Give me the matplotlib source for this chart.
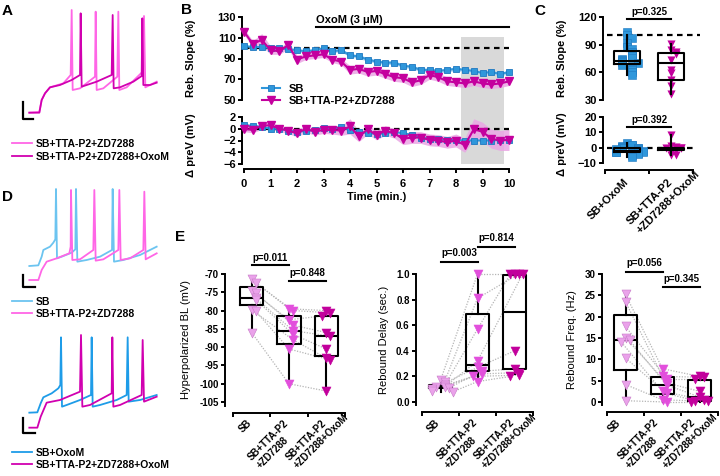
import numpy as np
import matplotlib.pyplot as plt

plt.rcParams['font.family'] = ['Liberation Sans', 'DejaVu Sans']
plt.rcParams['font.weight'] = 'bold'
plt.rcParams['axes.labelweight'] = 'bold'

W, H = 720, 476
fig = plt.figure(figsize=(W / 100, H / 100), dpi=100)

BLUE = '#2f97db'
BLUE_EDGE = '#1f78c0'
LIGHT_BLUE = '#6cc4f0'
MAG = '#c4009e'
PINK = '#ff66e6'
DARK_MAG = '#d100b0'
BAND_PINK = '#eaa6e4'
BAND_BLUE = '#a9d3f0'
TRI_LIGHT = '#eaa2ea'
TRI_MID = '#e24fdc'
TRI_DARK = '#c2009c'

# ---------------- data ----------------
# A / D traces (time units, voltage units)
a_light_t = [0, 30, 37, 47, 62, 102, 124, 127, 130, 152, 197, 199, 202, 222, 264, 267, 270, 292, 340, 344, 348, 382]
a_light_v = [0, 2, 38, 58, 76, 88, 113, 308, 68, 73, 108, 303, 68, 73, 108, 303, 68, 76, 123, 290, 76, 93]
a_dark_t = [0, 30, 37, 47, 62, 92, 127, 152, 154, 157, 172, 202, 247, 250, 253, 272, 312, 337, 339, 342, 362, 382]
a_dark_v = [0, 0, 38, 58, 76, 83, 98, 113, 298, 78, 83, 93, 113, 293, 73, 76, 93, 110, 283, 83, 83, 90]

d1_sb_t = [0, 27, 37, 42, 62, 72, 78, 80, 83, 97, 127, 138, 140, 144, 172, 212, 248, 250, 254, 282, 332, 382]
d1_sb_v = [42, 44, 70, 90, 100, 112, 122, 273, 65, 70, 82, 92, 273, 55, 60, 70, 90, 273, 55, 60, 75, 100]
d1_tta_t = [0, 27, 37, 52, 82, 120, 124, 125, 129, 152, 192, 195, 199, 222, 267, 270, 274, 302, 342, 345, 349, 382]
d1_tta_v = [0, 0, 30, 55, 65, 80, 100, 270, 60, 62, 90, 270, 58, 62, 90, 270, 60, 65, 90, 265, 62, 80]

d2_sb_t = [0, 24, 34, 42, 67, 87, 93, 95, 98, 112, 152, 185, 187, 190, 212, 262, 292, 295, 298, 332, 382]
d2_sb_v = [45, 46, 73, 91, 103, 118, 128, 271, 63, 68, 83, 98, 271, 63, 68, 83, 98, 271, 78, 83, 98]
d2_tta_t = [0, 24, 34, 52, 92, 152, 155, 159, 182, 247, 249, 252, 272, 337, 340, 344, 382]
d2_tta_v = [0, 0, 33, 75, 83, 108, 278, 63, 68, 103, 271, 63, 68, 98, 263, 78, 93]

# B time course
time_min = [0, 0.33, 0.67, 1, 1.33, 1.67, 2, 2.33, 2.67, 3, 3.33, 3.67, 4, 4.33, 4.67, 5,
            5.33, 5.67, 6, 6.33, 6.67, 7, 7.33, 7.67, 8, 8.33, 8.67, 9, 9.33, 9.67, 10]
slope_sb = [102, 101, 101, 100, 100, 99, 98, 97, 98, 100, 97, 98, 93, 92, 89, 87,
            86, 86, 83, 82, 79, 79, 78, 79, 80, 79, 78, 76, 77, 75, 77]
slope_sb_sem = [1.5, 1.5, 1.5, 1.5, 1.5, 1.5, 1.5, 1.5, 1.5, 1.5, 1.5, 1.5, 1.8, 1.8, 1.8, 1.8,
                1.8, 1.8, 1.8, 1.8, 1.8, 1.8, 1.8, 1.8, 1.8, 1.8, 1.8, 1.8, 1.8, 1.8, 1.8]
slope_tta = [116, 104, 108, 98, 97, 103, 89, 92, 93, 94, 89, 87, 79, 80, 77, 78,
             75, 72, 71, 67, 69, 74, 72, 68, 67, 66, 68, 66, 65, 66, 68]
slope_tta_sem = [3, 3, 6, 4, 3, 4, 4, 3, 3, 3, 3, 3, 4, 4, 4, 4,
                 4, 4, 4, 4, 4, 4, 4, 4, 4, 4, 4, 4, 4, 4, 4]
prev_sb = [0.6, 0.5, 0.3, 0.0, 0.0, -0.3, -0.5, -0.4, -0.2, 0.2, 0.0, 0.3, -0.2, -0.6, -0.7, -0.9,
           -0.8, -0.5, -0.8, -1.0, -1.5, -1.7, -1.8, -1.9, -1.9, -2.0, -2.0, -2.0, -2.0, -1.9, -1.9]
prev_tta = [0.0, -0.2, 0.5, 0.6, 0.0, -0.3, -0.8, 0.0, -0.5, -0.2, -0.2, -0.3, 0.4, -1.3, -0.1, -1.1,
            -0.3, -0.8, -1.7, -1.5, -1.5, -1.9, -2.0, -2.3, -2.0, -2.8, -0.1, -0.5, -1.7, -2.0, -1.9]
prev_tta_sem = [0.5, 0.5, 0.6, 0.6, 0.5, 0.5, 0.6, 0.6, 0.6, 0.6, 0.7, 0.8, 1.3, 0.9, 0.8, 0.8,
                0.8, 0.8, 1.0, 1.0, 1.0, 1.0, 1.0, 1.0, 1.1, 1.2, 1.8, 1.6, 1.6, 1.7, 1.8]
oxom_start, oxom_end = 2.7, 10
shade_start, shade_end, shade_top = 8.2, 9.8, 111

# C summary
c_labels = ['SB+OxoM', 'SB+TTA-P2\n+ZD7288+OxoM']
c_slope_sb = [104, 100, 97, 92, 88, 85, 82, 80, 78, 76, 75, 73, 72, 71, 70, 68, 66, 64, 62, 60, 57]
c_slope_tta = [91, 84, 82, 80, 73, 63, 59, 52, 45, 37]
c_slope_box = [(69, 72, 83, 57, 101), (52, 70, 81, 37, 91)]
c_prev_sb = [3, 2, 1.5, 1, 0.5, 0, 0, -0.5, -1, -1, -1.5, -2, -2, -2, -2.5, -3, -3, -3.5, -4, -5, -6]
c_prev_tta = [8, 1, 0.5, 0, 0, -0.5, -1.5, -3, -4.5, -5]
c_prev_box = [(-3, -2, -0.5, -6, 3), (-1.5, -0.5, 0, -5, 8)]
c_p = ['p=0.325', 'p=0.392']

# E summary (paired cells)
e_labels = ['SB', 'SB+TTA-P2\n+ZD7288', 'SB+TTA-P2\n+ZD7288+OxoM']
bl_vals = [[-71.4, -72.5, -74.7, -75.2, -76.6, -77, -79.8, -80.2, -86],
           [-79.5, -80, -82.5, -84, -85.5, -86.5, -88, -90.5, -100],
           [-80, -80.6, -81.5, -86, -87, -90.5, -93, -93.5, -102]]
bl_box = [(-78.5, -76.5, -73.5, -86, -71.5), (-89, -85.5, -81.5, -100, -79), (-92.5, -87, -81.5, -102, -80)]
delay_vals = [[0.17, 0.16, 0.13, 0.12, 0.12, 0.11, 0.10, 0.09, 0.08],
              [1.0, 0.81, 0.57, 0.32, 0.27, 0.24, 0.22, 0.20, 0.16],
              [1.0, 1.0, 1.0, 1.0, 0.40, 0.26, 0.23, 0.21, 0.20]]
delay_box = [(0.11, 0.12, 0.135, 0.08, 0.17), (0.24, 0.29, 0.69, 0.17, 1.0), (0.26, 0.70, 0.99, 0.22, 1.0)]
freq_vals = [[25.2, 23.5, 17.7, 15, 14.5, 14, 10.3, 4.1, 0.3],
             [7.8, 6, 5.5, 4.5, 4, 2.5, 2, 0.5, 0],
             [6, 5.8, 5.5, 2.5, 1.2, 0.5, 0.3, 0.2, 0]]
freq_box = [(7.5, 14.5, 20.3, 0, 25), (1.8, 4, 5.8, 0, 7.8), (0.3, 1.2, 5.2, 0, 6)]
bl_p = ['p=0.011', 'p=0.848']
delay_p = ['p=0.003', 'p=0.814']
freq_p = ['p=0.056', 'p=0.345']


# ---------------- helpers ----------------
def px_axes(l, t, r, b):
    return fig.add_axes([l / W, 1 - b / H, (r - l) / W, (b - t) / H])


def pt(px):
    return px * 72 / 100


def style(ax, left_out=2, bottom_out=5, lw=1.4, size=8):
    for s in ('top', 'right'):
        ax.spines[s].set_visible(False)
    ax.spines['left'].set_position(('outward', pt(left_out)))
    ax.spines['bottom'].set_position(('outward', pt(bottom_out)))
    for s in ('left', 'bottom'):
        ax.spines[s].set_linewidth(lw)
    ax.tick_params(width=lw, length=3, labelsize=size, pad=1.5)
    ax.patch.set_visible(False)


def spread(vals, step, tol):
    offs = []
    for i, v in enumerate(vals):
        k = sum(1 for u in vals[:i] if abs(u - v) < tol)
        offs.append(((k + 1) // 2) * step * (1 if k % 2 else -1))
    return np.array(offs)


def draw_box(ax, pos, st, width, zorder=3, lw=1.5):
    q1, med, q3, lo, hi = st
    ax.bxp([dict(q1=q1, med=med, q3=q3, whislo=lo, whishi=hi, fliers=[])], positions=[pos],
           widths=width, showfliers=False, showcaps=False, manage_ticks=False,
           boxprops=dict(lw=lw, color='k'), medianprops=dict(lw=lw, color='k'),
           whiskerprops=dict(lw=lw, color='k'), zorder=zorder)


def p_bar(ax, x0, x1, y_line, y_text, text):
    ax.plot([x0, x1], [y_line, y_line], color='k', lw=1.5, clip_on=False)
    ax.text((x0 + x1) / 2, y_text, text, ha='center', va='center', fontsize=7, clip_on=False)


def cat_axis(ax, n):
    ax.set_xlim(0.5, n + 0.5)
    ax.set_xticks(np.arange(n + 1) + 0.5)
    ax.set_xticklabels([])


def rot_labels(ax, labels, size, drop_px, shift_px=-1):
    # 45 degree labels, lines left-aligned, first line ending at the category
    r = fig.canvas.get_renderer()
    y0 = ax.get_ylim()[0]
    lh = size * 1.22 * 100 / 72
    c = 0.7071
    for i, lab in enumerate(labels):
        lines = lab.split('\n')
        ws = []
        for ln in lines:
            tmp = fig.text(0, 0, ln, fontsize=size, fontweight='bold')
            ws.append(tmp.get_window_extent(r).width)
            tmp.remove()
        xd, yd = ax.transData.transform((i + 1, y0))
        xd += shift_px
        yd -= drop_px
        for j, ln in enumerate(lines):
            dx = (ws[j] - ws[0]) * c + j * lh * c
            dy = (ws[j] - ws[0]) * c - j * lh * c
            fig.text((xd + dx) / W, (yd + dy) / H, ln, rotation=45, ha='right', va='center',
                     rotation_mode='anchor', fontsize=size)


def trace_axes(l, t, r, b, ylim):
    ax = px_axes(l, t, r, b)
    ax.set_xlim(-49, 422)
    ax.set_ylim(*ylim)
    ax.axis('off')
    return ax


# ---------------- A ----------------
ax_a = trace_axes(13, 5, 170, 125, (-37, 323))
ha1, = ax_a.plot(a_light_t, a_light_v, color=PINK, lw=1.3, clip_on=False)
ha2, = ax_a.plot(a_dark_t, a_dark_v, color=DARK_MAG, lw=1.3, clip_on=False)
ax_a.plot([-18, -18, 12], [33, -20, -20], color='k', lw=1.6)
fig.legend([ha1, ha2], ['SB+TTA-P2+ZD7288', 'SB+TTA-P2+ZD7288+OxoM'], loc='upper left',
           bbox_to_anchor=(12 / W, 1 - 139 / H), frameon=False, fontsize=7.5, handlelength=1.9,
           handletextpad=0.4, borderpad=0, borderaxespad=0, labelspacing=0.25)

# ---------------- D ----------------
ax_d1 = trace_axes(13, 183, 170, 295, (-45, 291))
hd1, = ax_d1.plot(d1_sb_t, d1_sb_v, color=LIGHT_BLUE, lw=1.3, clip_on=False)
hd2, = ax_d1.plot(d1_tta_t, d1_tta_v, color=PINK, lw=1.3, clip_on=False)
ax_d1.plot([-20, -20, 17], [15, -22, -22], color='k', lw=1.6)
fig.legend([hd1, hd2], ['SB', 'SB+TTA-P2+ZD7288'], loc='upper left',
           bbox_to_anchor=(12 / W, 1 - 297 / H), frameon=False, fontsize=7.5, handlelength=1.9,
           handletextpad=0.4, borderpad=0, borderaxespad=0, labelspacing=0.15)

ax_d2 = trace_axes(13, 330, 170, 440, (-37, 293))
hd3, = ax_d2.plot(d2_sb_t, d2_sb_v, color='#1e9ce8', lw=1.3, clip_on=False)
hd4, = ax_d2.plot(d2_tta_t, d2_tta_v, color=DARK_MAG, lw=1.3, clip_on=False)
ax_d2.plot([-20, -20, 17], [28, -17, -17], color='k', lw=1.6)
fig.legend([hd3, hd4], ['SB+OxoM', 'SB+TTA-P2+ZD7288+OxoM'], loc='upper left',
           bbox_to_anchor=(12 / W, 1 - 448 / H), frameon=False, fontsize=7.5, handlelength=1.9,
           handletextpad=0.4, borderpad=0, borderaxespad=0, labelspacing=0.15)

# ---------------- B ----------------
ax_b1 = px_axes(244, 17, 509, 100)
ax_b2 = px_axes(244, 117, 509, 164)
style(ax_b1)
style(ax_b2)
t = np.array(time_min)
ax_b1.fill_between(t, np.array(slope_sb) - slope_sb_sem, np.array(slope_sb) + slope_sb_sem,
                   color=BAND_BLUE, lw=0, zorder=2)
ax_b1.fill_between(t, np.array(slope_tta) - slope_tta_sem, np.array(slope_tta) + slope_tta_sem,
                   color=BAND_PINK, lw=0, alpha=0.85, zorder=2)
hb1, = ax_b1.plot(t, slope_sb, color=BLUE, marker='s', ms=5, mec=BLUE_EDGE, mew=0.6, lw=1.5,
                  clip_on=False, zorder=4)
hb2, = ax_b1.plot(t, slope_tta, color=MAG, marker='v', ms=5.5, mec=MAG, lw=1.5, clip_on=False, zorder=4)
ax_b1.plot([0, 10], [100, 100], color='k', ls=(0, (2.5, 2)), lw=1.6, zorder=3)
ax_b1.plot([oxom_start, oxom_end], [120.5, 120.5], color='k', lw=1.5, clip_on=False)
ax_b1.text(oxom_start, 127, 'OxoM (3 μM)', fontsize=8, ha='left', va='center')
ax_b1.set_xlim(0, 10)
ax_b1.set_ylim(50, 130)
ax_b1.set_yticks([50, 70, 90, 110, 130])
ax_b1.spines['bottom'].set_visible(False)
ax_b1.set_xticks([])
ax_b1.set_ylabel('Reb. Slope (%)', fontsize=8)
ax_b1.yaxis.set_label_coords((196 - 244) / 265, 0.5)
ax_b1.legend([hb1, hb2], ['SB', 'SB+TTA-P2+ZD7288'], loc='upper left',
             bbox_to_anchor=((262 - 244) / 265, (100 - 84) / 83), frameon=False, fontsize=8,
             handlelength=1.6, handletextpad=0.8, borderpad=0, borderaxespad=0, labelspacing=0.2)

ax_b2.fill_between(t, np.array(prev_tta) - prev_tta_sem, np.array(prev_tta) + prev_tta_sem,
                   color=BAND_PINK, lw=0, alpha=0.85, zorder=2)
ax_b2.plot(t, prev_sb, color=BLUE, marker='s', ms=5, mec=BLUE_EDGE, mew=0.6, lw=1.5, clip_on=False, zorder=4)
ax_b2.plot(t, prev_tta, color=MAG, marker='v', ms=5.5, mec=MAG, lw=1.5, clip_on=False, zorder=4)
ax_b2.plot([0, 10], [0, 0], color='k', ls=(0, (2.5, 2)), lw=1.6, zorder=3)
ax_b2.set_xlim(0, 10)
ax_b2.set_ylim(-6, 2)
ax_b2.set_yticks([-6, -4, -2, 0, 2])
ax_b2.set_xticks(range(11))
ax_b2.tick_params(axis='x', pad=4)
ax_b2.set_xlabel('Time (min.)', fontsize=8, labelpad=2)
ax_b2.set_ylabel('Δ preV (mV)', fontsize=8)
ax_b2.yaxis.set_label_coords((196 - 244) / 265, 0.4)

# grey analysis window spanning both panels
pos1, pos2 = ax_b1.get_position(), ax_b2.get_position()
ax_b1.axvspan(shade_start, shade_end, ymin=(pos2.y0 - pos1.y0) / pos1.height,
              ymax=(shade_top - 50) / 80, color='#d9d9d9', lw=0, zorder=0, clip_on=False)

# ---------------- C ----------------
ax_c1 = px_axes(605, 17, 693, 100)
ax_c2 = px_axes(605, 117, 693, 163)
style(ax_c1)
style(ax_c2, bottom_out=7)
for ax, sb_vals, tta_vals, boxes, tol, ylim, yt in [
        (ax_c1, c_slope_sb, c_slope_tta, c_slope_box, 3.5, (30, 120), [30, 60, 90, 120]),
        (ax_c2, c_prev_sb, c_prev_tta, c_prev_box, 1.2, (-10, 20), [-10, 0, 10, 20])]:
    ax.scatter(1 + spread(sb_vals, 0.12, tol), sb_vals, marker='s', s=30, color=BLUE,
               edgecolor=BLUE_EDGE, lw=0.4, zorder=2, clip_on=False)
    ax.scatter(2 + spread(tta_vals, 0.11, tol), tta_vals, marker='v', s=34, color=TRI_DARK,
               lw=0, zorder=2, clip_on=False)
    for i, st in enumerate(boxes):
        draw_box(ax, i + 1, st, 0.58, zorder=3)
    ax.set_ylim(*ylim)
    ax.set_yticks(yt)
ax_c1.plot([0.55, 2.65], [100, 100], color='k', ls=(0, (2.5, 2)), lw=1.6, zorder=1, clip_on=False)
ax_c2.plot([0.55, 2.5], [0, 0], color='k', ls=(0, (2.5, 2)), lw=1.6, zorder=1, clip_on=False)
cat_axis(ax_c1, 2)
ax_c1.spines['bottom'].set_visible(False)
ax_c1.tick_params(axis='x', which='both', length=0)
cat_axis(ax_c2, 2)
rot_labels(ax_c2, c_labels, 8, 17, 0)
p_bar(ax_c1, 1, 2, 117.8, 125.4, c_p[0])
p_bar(ax_c2, 1, 2, 13.5, 18, c_p[1])
ax_c1.set_ylabel('Reb. Slope (%)', fontsize=8)
ax_c1.yaxis.set_label_coords((567 - 605) / 88, 0.5)
ax_c2.set_ylabel('Δ preV (mV)', fontsize=8)
ax_c2.yaxis.set_label_coords((567 - 605) / 88, 0.4)

# ---------------- E ----------------
e_specs = [
    ((233, 274, 345, 405.7), bl_vals, bl_box, bl_p, (-106, -70), np.arange(-105, -69, 5), 1.6,
     'Hyperpolarized BL (mV)', 8, [(-67.5, -65.6), (-71.9, -69.7)], '{:.0f}', 191, -2),
    ((422, 274, 533, 405), delay_vals, delay_box, delay_p, (-0.023, 1.0), np.arange(0, 1.01, 0.2), 0.04,
     'Rebound Delay (sec.)', 6, [(1.094, 1.164), (1.211, 1.28)], '{:.1f}', 389, -2),
    ((607, 274, 718, 405), freq_vals, freq_box, freq_p, (-0.7, 30), np.arange(0, 31, 5), 1.3,
     'Rebound Freq. (Hz)', 5, [(30.47, 32.6), (26.95, 28.8)], '{:.0f}', 577, -6),
]
tri_colors = [TRI_LIGHT, TRI_MID, TRI_DARK]
for (box_px, vals, boxes, ptxt, ylim, yt, tol, ylab, lout, plev, fmt, lab_x, lab_shift) in e_specs:
    ax = px_axes(*box_px)
    style(ax, left_out=lout, bottom_out=7, size=7)
    offs = [spread(v, 0.11, tol) for v in vals]
    for g in range(2):
        for i in range(len(vals[g])):
            ax.plot([g + 1 + offs[g][i], g + 2 + offs[g + 1][i]], [vals[g][i], vals[g + 1][i]],
                    color='#b5b5b5', ls=(0, (1, 1.2)), lw=0.9, zorder=1, clip_on=False)
    for g in range(3):
        draw_box(ax, g + 1, boxes[g], 0.62, zorder=2)
        ax.scatter(g + 1 + offs[g], vals[g], marker='v', s=42, color=tri_colors[g],
                   edgecolor='#c77ac7' if g == 0 else tri_colors[g], lw=0.4, zorder=3, clip_on=False)
    ax.set_ylim(*ylim)
    ax.set_yticks(yt)
    ax.set_yticklabels([fmt.format(v) for v in yt])
    cat_axis(ax, 3)
    rot_labels(ax, e_labels, 7.0, 16, lab_shift)
    p_bar(ax, 1, 2, plev[0][0], plev[0][1], ptxt[0])
    p_bar(ax, 2, 3, plev[1][0], plev[1][1], ptxt[1])
    ax.set_ylabel(ylab, fontsize=8, fontweight='normal')
    ax.yaxis.set_label_coords((lab_x - box_px[0]) / (box_px[2] - box_px[0]), 0.5)

# ---------------- panel letters ----------------
for letter, x, y in [('A', 2, 15), ('B', 181, 14), ('C', 534, 15), ('D', 2, 201), ('E', 175, 241)]:
    fig.text(x / W, 1 - y / H, letter, fontsize=11, fontweight='bold', ha='left', va='baseline')

fig.savefig('out.png', dpi=100)
